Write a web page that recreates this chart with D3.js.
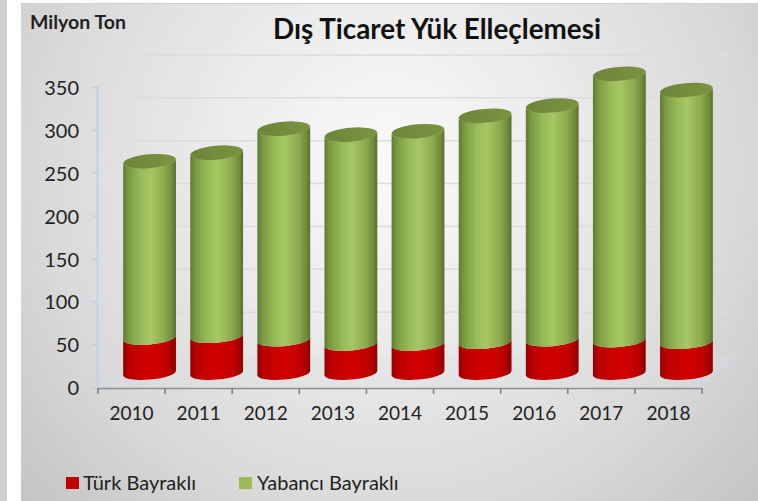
<!DOCTYPE html>
<html><head><meta charset="utf-8">
<script src="https://cdn.jsdelivr.net/npm/d3@7/dist/d3.min.js"></script>
<style>html,body{margin:0;padding:0;background:#fff;overflow:hidden}svg{display:block}text{font-family:Lato,"Open Sans",sans-serif}</style>
</head><body><svg id="c" width="758" height="501"></svg>
<script>
const years = ["2010","2011","2012","2013","2014","2015","2016","2017","2018"];
const turkBayrakli = [41,43,39,34,34,36,39,38,36];
const yabanciBayrakli = [206,214,246,244,248,264,273,311,294];
const yTicks = [0,50,100,150,200,250,300,350];
const seriesNames = ["Türk Bayraklı","Yabancı Bayraklı"];
const titleText = "Dış Ticaret Yük Elleçlemesi";
const unitText = "Milyon Ton";

const svg = d3.select("#c");
const defs = svg.append("defs");
const W=758,H=501;

const rg = defs.append("radialGradient").attr("id","bg").attr("gradientUnits","userSpaceOnUse")
  .attr("cx",390).attr("cy",165).attr("r",500);
[[0,"#fafafa"],[0.35,"#ebebeb"],[0.7,"#d9d9d9"],[1,"#c4c4c4"]].forEach(s=>rg.append("stop").attr("offset",s[0]).attr("stop-color",s[1]));
function cyl(id,stops){const g=defs.append("linearGradient").attr("id",id);stops.forEach(s=>g.append("stop").attr("offset",s[0]).attr("stop-color",s[1]));}
cyl("green",[[0,"#5f7a30"],[0.1,"#7a9a40"],[0.32,"#97b958"],[0.52,"#a6c763"],[0.78,"#8cab4e"],[0.93,"#6f8a3a"],[1,"#566e2c"]]);
cyl("red",[[0,"#960000"],[0.13,"#bc0000"],[0.5,"#d20000"],[0.82,"#c20000"],[1,"#8f0000"]]);
cyl("greenTop",[[0,"#6c853a"],[1,"#7a9440"]]);

svg.append("rect").attr("x",0).attr("y",0).attr("width",7).attr("height",H).attr("fill","#cfcfcf");
svg.append("rect").attr("x",21).attr("y",3).attr("width",W-21).attr("height",H-3).attr("fill","url(#bg)");
svg.append("line").attr("x1",21).attr("x2",W).attr("y1",3.5).attr("y2",3.5).attr("stroke","#cfcfcf");

const y = d3.scaleLinear().domain([0,350]).range([387,87]);
const x = d3.scaleBand().domain(years).range([98,702]);
const depthX=38, depthY=-32, offX=18, offY=-14;
const rx=26.5, ry=6.6, tilt=-5, tr=tilt*Math.PI/180;

// walls
const g=svg.append("g");
g.append("path").attr("d",`M${x.range()[0]},${y(0)}L${x.range()[1]},${y(0)}L${x.range()[1]+depthX},${y(0)+depthY}L${x.range()[0]+depthX},${y(0)+depthY}Z`).attr("fill","#d8dee6").attr("opacity",0.3);
yTicks.forEach(t=>{
  if(t>0) g.append("line").attr("x1",x.range()[0]+depthX).attr("x2",x.range()[1]+depthX-10).attr("y1",y(t)+depthY).attr("y2",y(t)+depthY).attr("stroke","#dcdcdc").attr("stroke-width",1.5);
  g.append("line").attr("x1",x.range()[0]).attr("x2",x.range()[0]+depthX).attr("y1",y(t)).attr("y2",y(t)+depthY).attr("stroke","#dedede").attr("stroke-width",1.2);
});
g.append("line").attr("x1",x.range()[1]).attr("x2",x.range()[1]+depthX).attr("y1",y(0)).attr("y2",y(0)+depthY).attr("stroke","#ccd6e2").attr("stroke-width",1.5);

// axes
const ay=svg.append("g").attr("transform","translate(97,0)").call(d3.axisLeft(y).tickValues(yTicks).tickSize(5).tickPadding(13).tickFormat(d3.format("d")));
ay.select(".domain").attr("stroke","#bcd0e6").attr("stroke-width",1.6);
ay.selectAll("line").attr("stroke","#bcd0e6").attr("stroke-width",1.4);
ay.selectAll("text").attr("font-size",20).attr("fill","#222").attr("dy","0.38em").style("font-family","Lato");
const ax=svg.append("g").attr("transform","translate(0,388)").call(d3.axisBottom(x).tickSize(0).tickPadding(19));
ax.select(".domain").attr("stroke","#8b9096").attr("stroke-width",1.6);
ax.selectAll("text").attr("font-size",19).attr("fill","#222").style("font-family","Lato");
const edges=[...years.map(d=>x(d)),x.range()[1]];
svg.append("g").selectAll("line").data(edges).join("line").attr("x1",d=>d).attr("x2",d=>d).attr("y1",388).attr("y2",394).attr("stroke","#7f8489").attr("stroke-width",1.6);

// cylinders
const cosA=Math.cos(tr),sinA=Math.sin(tr);
function body(cx,cyB,cyT){
  const lx=cx-rx*cosA, rxx=cx+rx*cosA;
  const ly=d=>d-rx*sinA, ry_=d=>d+rx*sinA;
  return `M${lx},${ly(cyB)}A${rx},${ry} ${tilt} 0 0 ${rxx},${ry_(cyB)}L${rxx},${ry_(cyT)}A${rx},${ry} ${tilt} 0 1 ${lx},${ly(cyT)}Z`;
}
years.forEach((yr,i)=>{
  const cx=x(yr)+x.bandwidth()/2+offX;
  const base=y(0)+offY;
  const top1=y(turkBayrakli[i])+offY;
  const top2=y(turkBayrakli[i]+yabanciBayrakli[i])+offY;
  svg.append("path").attr("d",body(cx,base,top1)).attr("fill","url(#red)");
  svg.append("path").attr("d",body(cx,top1,top2)).attr("fill","url(#green)");
  svg.append("ellipse").attr("cx",0).attr("cy",0).attr("rx",rx).attr("ry",ry+0.4)
    .attr("transform",`translate(${cx},${top2}) rotate(${tilt})`).attr("fill","url(#greenTop)");
});

// text
svg.append("text").attr("x",437).attr("y",39).attr("text-anchor","middle").attr("font-size",27.8).attr("font-weight",700).attr("fill","#111").text(titleText);
svg.append("text").attr("x",30).attr("y",29).attr("font-size",19.5).attr("font-weight",700).attr("fill","#222").text(unitText);

// legend
const lg=[{x:66,tx:83,c:"#c00000"},{x:239,tx:257,c:"#9bbb59"}];
lg.forEach((l,i)=>{
  svg.append("rect").attr("x",l.x).attr("y",477).attr("width",13).attr("height",12).attr("fill",l.c);
  svg.append("text").attr("x",l.tx).attr("y",490).attr("font-size",20).attr("fill","#222").text(seriesNames[i]);
});
</script></body></html>
